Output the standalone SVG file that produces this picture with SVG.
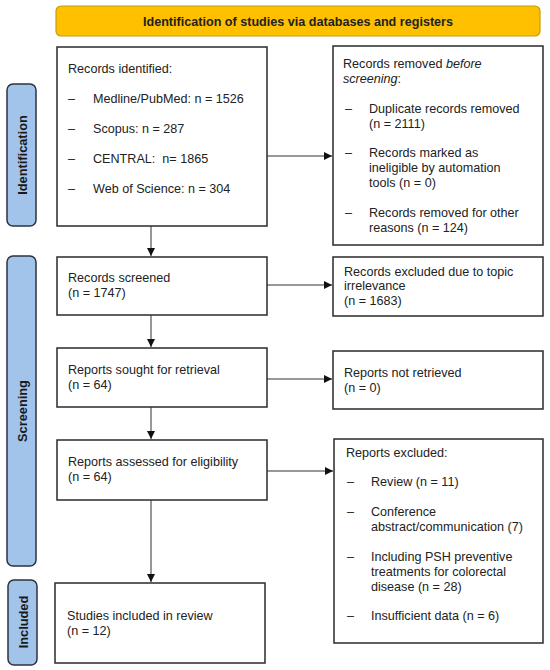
<svg xmlns="http://www.w3.org/2000/svg" width="550" height="670" viewBox="0 0 550 670">
<style>
text { font-family: "Liberation Sans", Arial, sans-serif; font-size: 12.6px; fill: #222; }
.b { font-weight: bold; }
.box { fill: #fff; stroke: #2a2a2a; stroke-width: 1.5; }
.side { fill: #a3c4ea; stroke: #2b3340; stroke-width: 1.5; }
.side-t { font-weight: bold; font-size: 12.8px; text-anchor: middle; fill: #1a1a1a; }
.hdr { fill: #ffc000; stroke: #c89a10; stroke-width: 1.2; }
.conn line { stroke: #333; stroke-width: 1; }
</style>
<defs>
<marker id="ah" viewBox="0 0 10 10" refX="10" refY="5" markerWidth="8" markerHeight="8" markerUnits="userSpaceOnUse" orient="auto">
<path d="M0,0 L10,5 L0,10 z" fill="#111"/>
</marker>
</defs>
<rect width="550" height="670" fill="#fff"/>

<g id="header">
<rect class="hdr" x="56" y="6" width="484" height="30" rx="5"/>
<text class="b" x="298" y="26" text-anchor="middle" font-size="12.6px">Identification of studies via databases and registers</text>
</g>

<g id="phase-identification">
<rect class="side" x="7" y="84" width="29" height="142" rx="6"/>
<text class="side-t" transform="translate(26.5,155) rotate(-90)">Identification</text>
</g>
<g id="phase-screening">
<rect class="side" x="7" y="256" width="29" height="310" rx="6"/>
<text class="side-t" transform="translate(26.5,411) rotate(-90)">Screening</text>
</g>
<g id="phase-included">
<rect class="side" x="8" y="580" width="29" height="85" rx="6"/>
<text class="side-t" transform="translate(27.5,622) rotate(-90)">Included</text>
</g>

<g id="records-identified">
<rect class="box" x="57" y="47" width="210" height="179"/>
<text x="68" y="73">Records identified:</text>
<text x="68" y="103">–</text><text x="93" y="103">Medline/PubMed: n = 1526</text>
<text x="68" y="133">–</text><text x="93" y="133">Scopus: n = 287</text>
<text x="68" y="163">–</text><text x="93" y="163" xml:space="preserve">CENTRAL:  n= 1865</text>
<text x="68" y="193">–</text><text x="93" y="193">Web of Science: n = 304</text>
</g>

<g id="records-removed">
<rect class="box" x="333" y="46" width="210" height="199"/>
<text x="343" y="68">Records removed <tspan font-style="italic">before</tspan></text>
<text x="343" y="83"><tspan font-style="italic">screening</tspan>:</text>
<text x="345" y="113">–</text><text x="369" y="113">Duplicate records removed</text>
<text x="369" y="128">(n = 2111)</text>
<text x="345" y="157">–</text><text x="369" y="157">Records marked as</text>
<text x="369" y="172">ineligible by automation</text>
<text x="369" y="187">tools (n = 0)</text>
<text x="345" y="217">–</text><text x="369" y="217">Records removed for other</text>
<text x="369" y="232">reasons (n = 124)</text>
</g>

<g id="records-screened">
<rect class="box" x="57" y="257" width="210" height="58"/>
<text x="68" y="282">Records screened</text>
<text x="68" y="297">(n = 1747)</text>
</g>

<g id="records-excluded">
<rect class="box" x="333" y="257" width="210" height="59"/>
<text x="344" y="276">Records excluded due to topic</text>
<text x="344" y="290">irrelevance</text>
<text x="344" y="305">(n = 1683)</text>
</g>

<g id="reports-sought">
<rect class="box" x="57" y="348" width="210" height="59"/>
<text x="68" y="374">Reports sought for retrieval</text>
<text x="68" y="389">(n = 64)</text>
</g>

<g id="reports-not-retrieved">
<rect class="box" x="333" y="351" width="210" height="58"/>
<text x="344" y="377">Reports not retrieved</text>
<text x="344" y="392">(n = 0)</text>
</g>

<g id="reports-assessed">
<rect class="box" x="57" y="440" width="210" height="60"/>
<text x="68" y="466">Reports assessed for eligibility</text>
<text x="68" y="481">(n = 64)</text>
</g>

<g id="reports-excluded">
<rect class="box" x="334" y="439" width="209" height="204"/>
<text x="346" y="457">Reports excluded:</text>
<text x="347" y="486">–</text><text x="371" y="486">Review (n = 11)</text>
<text x="347" y="516">–</text><text x="371" y="516">Conference</text>
<text x="371" y="531">abstract/communication (7)</text>
<text x="347" y="561">–</text><text x="371" y="561">Including PSH preventive</text>
<text x="371" y="576">treatments for colorectal</text>
<text x="371" y="591">disease (n = 28)</text>
<text x="347" y="620">–</text><text x="371" y="620">Insufficient data (n = 6)</text>
</g>

<g id="studies-included">
<rect class="box" x="55" y="583" width="210" height="80"/>
<text x="67" y="620">Studies included in review</text>
<text x="67" y="635">(n = 12)</text>
</g>

<g id="connectors" class="conn">
<line x1="267" y1="156" x2="332" y2="156" marker-end="url(#ah)"/>
<line x1="151" y1="226" x2="151" y2="256" marker-end="url(#ah)"/>
<line x1="267" y1="285" x2="332" y2="285" marker-end="url(#ah)"/>
<line x1="151" y1="315" x2="151" y2="347" marker-end="url(#ah)"/>
<line x1="267" y1="379" x2="332" y2="379" marker-end="url(#ah)"/>
<line x1="151" y1="407" x2="151" y2="439" marker-end="url(#ah)"/>
<line x1="267" y1="471" x2="333" y2="471" marker-end="url(#ah)"/>
<line x1="151" y1="500" x2="151" y2="582" marker-end="url(#ah)"/>
</g>
</svg>
